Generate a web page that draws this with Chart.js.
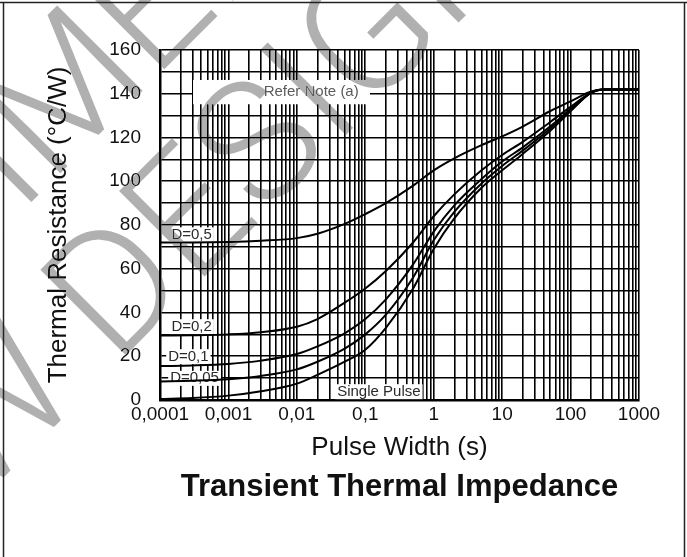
<!DOCTYPE html>
<html lang="en">
<head>
  <meta charset="UTF-8">
  <title>Transient Thermal Impedance</title>
  <script src="https://cdn.jsdelivr.net/npm/chart.js"></script>
  <style>
body {
  margin: 0;
  background: #ffffff;
}
#wrap {
  width: 687px;
  height: 557px;
}
  </style>
</head>
<body>
  <div id="wrap"><canvas id="zthChart" width="687" height="557"></canvas></div>

  <script>
    // axis ticks
    const xTickValues = [0.0001, 0.001, 0.01, 0.1, 1, 10, 100, 1000];
    const xTickLabels = ['0,0001', '0,001', '0,01', '0,1', '1', '10', '100', '1000'];
    const yTickValues = [0, 20, 40, 60, 80, 100, 120, 140, 160];

    const pulseWidth = [0.0001, 0.0003, 0.001, 0.003, 0.01, 0.02, 0.05, 0.1, 0.2, 0.5, 1, 2, 5, 10, 20, 50, 100, 200, 300, 1000];

    // thermal resistance (°C/W) per duty cycle
    const d05 = [72, 72, 72.2, 72.8, 74, 76, 80.5, 85, 90, 98, 105, 110.5, 116.5, 120.5, 125, 132, 136.5, 141, 142, 142];
    const d02 = [29.5, 29.6, 30, 31, 33.5, 37, 44.5, 51, 59, 72, 84, 94, 105, 112, 118, 127, 134, 140.5, 142, 142];
    const d01 = [15.5, 15.8, 16.5, 18, 21, 24.5, 30.5, 37, 46, 62, 77, 89, 101, 109, 115.5, 125, 133, 140.5, 142, 142];
    const d005 = [8.5, 8.8, 9.5, 11, 14, 17.5, 23.5, 30, 39, 56, 73, 86, 99, 107, 114, 124, 132.5, 140.5, 142, 142];
    const single = [0.5, 0.9, 2, 4, 7.5, 11.5, 17.5, 23, 33, 51, 69, 83, 97, 105, 112.5, 123, 132, 140.5, 142, 142];

    // curve names written on the plot, anchored in data coordinates
    const curveLabels = [
      { text: 'D=0,5', x: 2.9e-4, y: 75.5 },
      { text: 'D=0,2', x: 2.9e-4, y: 33.5 },
      { text: 'D=0,1', x: 2.6e-4, y: 19.8 },
      { text: 'D=0,05', x: 3.2e-4, y: 9.9 },
      { text: 'Single Pulse', x: 0.158, y: 3.8 }
    ];

    // grid: 1..9 per decade
    const xGridValues = [];
    xTickValues.slice(0, -1).forEach(d => {
      for (let k = 1; k < 10; k++) xGridValues.push(+(k * d).toPrecision(6));
    });
    xGridValues.push(xTickValues[xTickValues.length - 1]);

    const toPoints = (ys) => pulseWidth.map((x, i) => ({ x: x, y: ys[i] }));

    const curve = (ys) => ({
      data: toPoints(ys),
      borderColor: '#000',
      borderWidth: 2,
      pointRadius: 0,
      fill: false,
      cubicInterpolationMode: 'monotone'
    });

    const FONT = '"Liberation Sans", Arial, Helvetica, sans-serif';

    const decorPlugin = {
      id: 'decor',
      beforeDraw(chart) {
        const ctx = chart.ctx;
        ctx.save();
        ctx.fillStyle = '#ffffff';
        ctx.fillRect(0, 0, chart.width, chart.height);
        ctx.restore();
      },
      beforeDatasetsDraw(chart) {
        const ctx = chart.ctx;
        const xs = chart.scales.x, ys = chart.scales.y;
        ctx.save();
        ctx.font = '15px ' + FONT;
        ctx.textAlign = 'center';
        ctx.textBaseline = 'middle';

        // "Refer Note (a)" gap in the grid
        const bx0 = xs.getPixelForValue(3.04e-4), bx1 = xs.getPixelForValue(0.117);
        const by0 = ys.getPixelForValue(146.3), by1 = ys.getPixelForValue(135.2);
        ctx.fillStyle = '#ffffff';
        ctx.fillRect(bx0, by0, bx1 - bx0, by1 - by0);
        ctx.fillStyle = '#5a5a5a';
        ctx.fillText('Refer Note (a)', xs.getPixelForValue(0.0162), ys.getPixelForValue(140.8));

        curveLabels.forEach(l => {
          const px = xs.getPixelForValue(l.x), py = ys.getPixelForValue(l.y);
          const w = ctx.measureText(l.text).width + 4;
          ctx.fillStyle = '#ffffff';
          ctx.fillRect(px - w / 2, py - 7.5, w, 15);
          ctx.fillStyle = '#2a2a2a';
          ctx.fillText(l.text, px, py);
        });
        ctx.restore();
      },
      afterDraw(chart) {
        const ctx = chart.ctx;
        // watermark, laid over everything but never lighter than the ink below
        ctx.save();
        ctx.globalCompositeOperation = 'darken';
        ctx.fillStyle = '#b0b0b0';
        ctx.font = '300 170px Roboto, ' + FONT;
        ctx.translate(115, 366);
        ctx.rotate(-Math.PI / 4);
        ctx.textAlign = 'left';
        ctx.textBaseline = 'alphabetic';
        const lead = ctx.measureText('NEW ').width;
        ctx.fillText('NEW DESIGN', -lead, 0);
        const pre = ctx.measureText('NOT RECOM').width;
        const mW = ctx.measureText('M').width;
        ctx.fillText('NOT RECOMMENDED FOR', 156 - pre - mW / 2, -175);
        ctx.restore();

        // page frame
        ctx.save();
        ctx.strokeStyle = '#222';
        ctx.lineWidth = 1.5;
        ctx.beginPath();
        ctx.moveTo(0, 2.5); ctx.lineTo(chart.width, 2.5);
        ctx.moveTo(3.5, 2.5); ctx.lineTo(3.5, chart.height);
        ctx.moveTo(684.5, 2.5); ctx.lineTo(684.5, chart.height);
        ctx.stroke();
        ctx.restore();
      }
    };

    new Chart(document.getElementById('zthChart').getContext('2d'), {
      type: 'line',
      data: {
        datasets: [curve(d05), curve(d02), curve(d01), curve(d005), curve(single)]
      },
      options: {
        responsive: false,
        animation: false,
        devicePixelRatio: 1,
        layout: { padding: { top: 50, right: 48, bottom: 51.4, left: 0 } },
        plugins: {
          legend: { display: false },
          tooltip: { enabled: false },
          title: {
            display: true,
            position: 'bottom',
            fullSize: false,
            text: 'Transient Thermal Impedance',
            color: '#111',
            font: { family: FONT, size: 31, weight: 'bold' },
            padding: { top: 0, bottom: 0 }
          }
        },
        scales: {
          x: {
            type: 'logarithmic',
            min: 0.0001,
            max: 1000,
            afterBuildTicks: (scale) => { scale.ticks = xGridValues.map(v => ({ value: v })); },
            afterFit: (scale) => { scale.height = 68.4; },
            grid: { color: '#000', lineWidth: 1.6, drawTicks: false },
            border: { color: '#000', width: 2.5 },
            ticks: {
              autoSkip: false,
              maxRotation: 0,
              padding: 3,
              color: '#111',
              font: { family: FONT, size: 19 },
              callback: (v) => {
                const i = xTickValues.findIndex(t => Math.abs(t - v) / t < 1e-6);
                return i >= 0 ? xTickLabels[i] : '';
              }
            },
            title: {
              display: true,
              text: 'Pulse Width (s)',
              color: '#111',
              font: { family: FONT, size: 26 },
              padding: { top: 0, bottom: 4.8 }
            }
          },
          y: {
            min: 0,
            max: 160,
            afterFit: (scale) => { scale.width = 160; },
            grid: { color: '#000', lineWidth: 1.6, drawTicks: false },
            border: { color: '#000', width: 2.5 },
            ticks: {
              stepSize: 10,
              autoSkip: false,
              padding: 19,
              color: '#111',
              font: { family: FONT, size: 19 },
              callback: (v) => yTickValues.includes(v) ? String(v) : ''
            },
            title: {
              display: true,
              text: 'Thermal Resistance (°C/W)',
              color: '#111',
              font: { family: FONT, size: 26 },
              padding: { top: 43, bottom: 0 }
            }
          }
        }
      },
      plugins: [decorPlugin]
    });
  </script>
</body>
</html>
